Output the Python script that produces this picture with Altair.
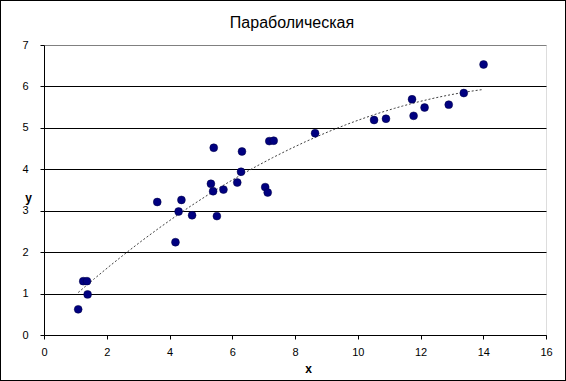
import altair as alt
import pandas as pd

x_vals = [1.09, 1.25, 1.37, 1.39, 3.61, 4.19, 4.29, 4.38, 4.72, 5.32,
          5.39, 5.41, 5.51, 5.72, 6.16, 6.28, 6.31, 7.05, 7.13, 7.18,
          7.32, 8.64, 10.52, 10.90, 11.73, 11.78, 12.13, 12.90, 13.38, 14.01]
y_vals = [0.62, 1.30, 1.30, 0.98, 3.21, 2.24, 2.98, 3.26, 2.89, 3.65,
          3.47, 4.52, 2.87, 3.51, 3.68, 3.94, 4.43, 3.57, 3.44, 4.68,
          4.69, 4.87, 5.19, 5.22, 5.69, 5.29, 5.49, 5.56, 5.84, 6.53]
x_ticks = [0, 2, 4, 6, 8, 10, 12, 14, 16]
y_ticks = [0, 1, 2, 3, 4, 5, 6, 7]

df = pd.DataFrame({"x": x_vals, "y": y_vals})

font = "Liberation Sans"

xenc = alt.X("x:Q", scale=alt.Scale(domain=[0, 16], nice=False),
             axis=alt.Axis(values=x_ticks, title="x", grid=False, domainColor="black",
                           tickColor="black", tickSize=4, labelPadding=7, labelFlush=False,
                           labelFont=font, labelFontSize=11, labelColor="black",
                           titleFont=font, titleFontSize=12, titleFontWeight="bold",
                           titleX=264, titleY=33, titleBaseline="middle", titleColor="black"))
yenc = alt.Y("y:Q", scale=alt.Scale(domain=[0, 7], nice=False),
             axis=alt.Axis(values=y_ticks, title="y", grid=True,
                           gridColor={"condition": {"test": "datum.value == 7", "value": "#808080"}, "value": "black"},
                           gridWidth=1, gridOpacity=1, labelFlush=False,
                           domainColor="black", tickColor="black", tickSize=4, labelPadding=12,
                           labelFont=font, labelFontSize=11, labelColor="black",
                           titleFont=font, titleFontSize=12, titleFontWeight="bold",
                           titleAngle=0, titleX=-16, titleY=152, titleAlign="center",
                           titleBaseline="middle", titleColor="black"))

points = alt.Chart(df).mark_circle(size=62, color="#000080", opacity=1,
                                   stroke="#000040", strokeWidth=0.5).encode(x=xenc, y=yenc)

trend = alt.Chart(df).transform_regression("x", "y", method="poly", order=2).mark_line(
    color="#404040", strokeWidth=1, strokeDash=[2, 2]).encode(x="x:Q", y="y:Q")

frame = alt.Chart(df).mark_rect(filled=False, stroke="black", strokeWidth=1, clip=False).encode(
    x=alt.value(-43.5), x2=alt.value(521.5), y=alt.value(-44.5), y2=alt.value(335.5))

chart = alt.layer(trend, points, frame).properties(
    width=502, height=290,
    title=alt.TitleParams("Параболическая", font=font, fontSize=16, fontWeight="normal",
                          color="black", offset=0, dy=31, dx=-3, anchor="middle"),
    padding={"left": 44, "top": 45, "right": 20, "bottom": 46},
    autosize=alt.AutoSizeParams(type="none"),
).configure_view(stroke="#808080", strokeWidth=1).configure(background="white")

chart.save("out.html", embed_options={"renderer": "svg", "actions": False})
